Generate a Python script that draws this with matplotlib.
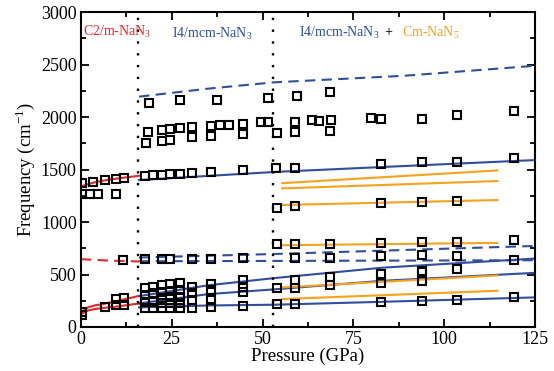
import matplotlib
matplotlib.use("Agg")
import matplotlib.pyplot as plt
from matplotlib.ticker import MultipleLocator

plt.rcParams['font.family'] = ['Liberation Serif', 'DejaVu Serif']
plt.rcParams['mathtext.fontset'] = 'custom'
plt.rcParams['mathtext.rm'] = 'Liberation Serif'

RED = '#e8262b'
BLUE = '#2f4e9e'
ORANGE = '#f7a21b'

# Measured Raman frequencies (pressure in GPa, frequency in cm^-1)
exp_p = [0.3, 3.4, 6.6, 9.6, 11.9,
         0.3, 2.5, 4.8, 9.7,
         11.6,
         0.3, 0.3, 6.6, 9.7, 9.7, 11.9, 11.9,
         18.7, 27.4, 37.5, 51.4,
         18.5, 17.9, 22.2, 22.2, 24.4, 24.4, 27.4, 30.6, 30.6, 35.9, 35.9,
         38.3, 40.7, 44.7, 44.7, 49.5, 51.6,
         17.6, 19.9, 22.2, 24.4, 27.4, 30.6, 35.9, 44.7, 53.8,
         17.6, 22.2, 24.4, 30.6, 35.9, 44.7,
         17.6, 17.6, 17.6, 17.6,
         19.9, 19.9, 19.9, 19.9,
         22.2, 22.2, 22.2, 22.2, 22.2,
         24.4, 24.4, 24.4, 24.4, 24.4,
         27.4, 27.4, 27.4, 27.4, 27.4,
         30.6, 30.6, 30.6, 30.6,
         35.9, 35.9, 35.9, 35.9,
         44.7, 44.7, 44.7, 44.7,
         54.0, 58.9, 58.9, 63.5, 65.6, 68.7, 68.5, 79.7, 82.7, 93.8, 103.5, 119.1,
         59.6, 68.5,
         58.9, 82.7, 93.8, 103.5, 119.1,
         54.0, 58.9, 82.7, 93.8, 103.5,
         54.0, 58.9, 68.5, 82.7, 93.8, 103.5, 119.1,
         58.9, 68.5, 82.7, 93.8, 103.5, 119.1,
         54.0, 58.9, 58.9, 68.5, 68.5, 82.7, 82.7, 93.8, 93.8, 93.8, 103.5,
         54.0, 58.9, 82.7, 93.8, 103.5, 119.1]
exp_f = [1370, 1380, 1396, 1412, 1422,
         1270, 1270, 1270, 1270,
         636,
         145, 115, 190, 265, 205, 272, 205,
         2130, 2162, 2165, 2181,
         1855, 1757, 1877, 1776, 1887, 1782, 1899, 1902, 1807, 1912, 1823,
         1928, 1925, 1931, 1836, 1956, 1950,
         1434, 1443, 1450, 1453, 1460, 1469, 1481, 1494, 1512,
         649, 649, 649, 649, 649, 655,
         367, 304, 240, 178,
         383, 320, 240, 178,
         399, 336, 272, 225, 178,
         405, 345, 288, 225, 178,
         420, 351, 288, 225, 178,
         383, 320, 256, 178,
         405, 351, 256, 193,
         446, 383, 335, 202,
         1845, 1953, 1858, 1969, 1963, 1969, 1868, 1994, 1978, 1982, 2020, 2054,
         2197, 2235,
         1516, 1551, 1567, 1576, 1611,
         1137, 1152, 1184, 1187, 1197,
         791, 791, 795, 804, 810, 814, 829,
         659, 659, 674, 681, 677, 636,
         373, 446, 373, 472, 399, 506, 421, 535, 520, 440, 551,
         216, 218, 235, 250, 256, 282]

# Calculated modes, C2/m-NaN3
c2m_hi_p = [0, 4, 8, 12, 16]
c2m_hi_f = [1340, 1380, 1405, 1423, 1440]
c2m_a_p = [0, 0.5, 1, 2, 4, 6, 10, 13, 16]
c2m_a_f = [120, 145, 165, 188, 207, 218, 248, 272, 296]
c2m_b_p = [0, 0.5, 1, 2, 4, 6, 10, 13, 16]
c2m_b_f = [120, 130, 140, 158, 172, 180, 195, 210, 224]
c2m_dash_p = [0, 8, 16]
c2m_dash_f = [646, 632, 624]

# Calculated modes, I4/mcm-NaN3
i4_hi_p = [16, 54, 125]
i4_hi_f = [1400, 1478, 1590]
i4_a_p = [16, 35, 53, 83, 125]
i4_a_f = [294, 397, 465, 565, 652]
i4_b_p = [16, 35, 53, 83, 125]
i4_b_f = [225, 313, 358, 440, 516]
i4_c_p = [16, 35, 53, 83, 125]
i4_c_f = [187, 205, 212, 240, 282]
i4_dtop_p = [16, 35, 53, 89, 125]
i4_dtop_f = [2194, 2270, 2330, 2393, 2488]
i4_dmid_p = [16, 53, 125]
i4_dmid_f = [662, 695, 772]
i4_dlow_p = [16, 125]
i4_dlow_f = [626, 636]

# Calculated modes, Cm-NaN5
cm_p = [55.4, 114.6]
cm_modes = [[1370, 1491], [1320, 1390], [1162, 1209],
            [779, 801], [377, 491], [266, 345]]

# Phase boundaries
boundaries = [15.7, 52.9]

fig = plt.figure(figsize=(5.54, 3.71), dpi=100)
ax = fig.add_axes([0.146, 0.1186, 0.82, 0.849])

lw = 1.5
dash = (0, (5, 3))
ax.plot(c2m_hi_p, c2m_hi_f, color=RED, lw=lw)
ax.plot(c2m_a_p, c2m_a_f, color=RED, lw=lw)
ax.plot(c2m_b_p, c2m_b_f, color=RED, lw=lw)
ax.plot(c2m_dash_p, c2m_dash_f, color=RED, lw=lw, linestyle=dash)

for p, f in [(i4_hi_p, i4_hi_f), (i4_a_p, i4_a_f), (i4_b_p, i4_b_f), (i4_c_p, i4_c_f)]:
    ax.plot(p, f, color=BLUE, lw=lw)
for p, f in [(i4_dtop_p, i4_dtop_f), (i4_dmid_p, i4_dmid_f), (i4_dlow_p, i4_dlow_f)]:
    ax.plot(p, f, color=BLUE, lw=lw, linestyle=dash)

for f in cm_modes:
    ax.plot(cm_p, f, color=ORANGE, lw=lw)

for b in boundaries:
    ax.axvline(b, color='black', lw=1.7, linestyle=(0, (1, 4)))

ax.plot(exp_p, exp_f, linestyle='none', marker='s', markersize=6.4,
        markerfacecolor='none', markeredgecolor='black', markeredgewidth=1.5)

ax.set_xlim(0, 125)
ax.set_ylim(0, 3000)
ax.xaxis.set_major_locator(MultipleLocator(25))
ax.xaxis.set_minor_locator(MultipleLocator(12.5))
ax.yaxis.set_major_locator(MultipleLocator(500))
ax.yaxis.set_minor_locator(MultipleLocator(250))
ax.tick_params(which='both', direction='in', top=True, right=True,
               width=1.3, labelsize=13)
ax.tick_params(which='major', length=6, pad=3)
ax.tick_params(which='minor', length=3.5)
for s in ax.spines.values():
    s.set_linewidth(1.5)

ax.set_xlabel('Pressure (GPa)', fontsize=13.5, labelpad=0)
ax.set_ylabel('Frequency (cm$^{-1}$)', fontsize=13.5, labelpad=3)

tsz = 10
ax.text(0.5, 2810, 'C2/m-NaN$_3$', color=RED, fontsize=tsz, va='center')
ax.text(25.0, 2790, 'I4/mcm-NaN$_3$', color=BLUE, fontsize=tsz, va='center')
ax.text(60.0, 2800, 'I4/mcm-NaN$_3$', color=BLUE, fontsize=tsz, va='center')
ax.text(83.4, 2800, '+', color='black', fontsize=tsz, va='center')
ax.text(88.4, 2800, 'Cm-NaN$_5$', color=ORANGE, fontsize=tsz, va='center')

fig.savefig('out.png', dpi=100)
